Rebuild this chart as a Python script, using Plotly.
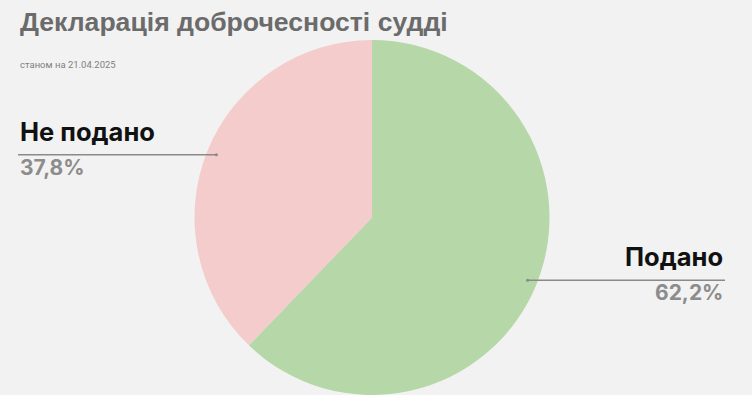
import math
import plotly.graph_objects as go

labels = ["Подано", "Не подано"]
values = [62.2, 37.8]
pct_text = ["62,2%", "37,8%"]
colors = ["#b6d7a8", "#f4cccc"]

W, H = 752, 395
top_margin = 40
dom_y = (H - top_margin) / H
cx_px = 372
dom_x = [(cx_px - 180) / W, (cx_px + 180) / W]

fig = go.Figure(go.Pie(
    labels=labels, values=values, marker=dict(colors=colors, line=dict(width=0)),
    sort=False, direction="clockwise", rotation=0, textinfo="none",
    hoverinfo="label+percent", showlegend=False,
    domain=dict(x=dom_x, y=[0, dom_y]),
))

R = min(dom_y * H, (dom_x[1] - dom_x[0]) * W) / 2
cy_px = top_margin + R
total = sum(values)
cum = 0
shapes, annos = [], []
for i, v in enumerate(values):
    mid = (cum + v / 2) / total * 2 * math.pi
    cum += v
    px = cx_px + 0.945 * R * math.sin(mid)
    py = cy_px - 0.945 * R * math.cos(mid)
    right = math.sin(mid) > 0
    x_end = 725 if right else 18
    xa = "right" if right else "left"
    shapes.append(dict(type="line", xref="paper", yref="paper",
                       x0=px / W, x1=x_end / W, y0=1 - py / H, y1=1 - py / H,
                       line=dict(color="#8a8a8a", width=1.5)))
    shapes.append(dict(type="circle", xref="paper", yref="paper",
                       x0=(px - 1.5) / W, x1=(px + 1.5) / W,
                       y0=1 - (py + 1.5) / H, y1=1 - (py - 1.5) / H,
                       fillcolor="#8a8a8a", line=dict(width=0)))
    annos.append(dict(text=f"<b>{labels[i]}</b>", x=x_end / W, y=1 - (py - 6) / H,
                      xref="paper", yref="paper", xanchor=xa, yanchor="bottom",
                      showarrow=False, font=dict(family="Inter", size=25.5, color="#111111")))
    annos.append(dict(text=f"<b>{pct_text[i]}</b>", x=x_end / W, y=1 - (py - 2) / H,
                      xref="paper", yref="paper", xanchor=xa, yanchor="top",
                      showarrow=False, font=dict(family="Inter", size=21, color="#8c8c8c")))

annos.append(dict(text="<b>Декларація доброчесності судді</b>", x=18 / W, y=1 - 5 / H,
                  xref="paper", yref="paper", xanchor="left", yanchor="top", showarrow=False,
                  font=dict(family="Liberation Sans", size=26.6, color="#6b6b6b")))
annos.append(dict(text="станом на 21.04.2025", x=18 / W, y=1 - 57 / H,
                  xref="paper", yref="paper", xanchor="left", yanchor="top", showarrow=False,
                  font=dict(family="Roboto", size=9.5, color="#808080")))

fig.update_layout(width=W, height=H, margin=dict(l=0, r=0, t=0, b=0),
                  paper_bgcolor="#f2f2f2", plot_bgcolor="#f2f2f2",
                  shapes=shapes, annotations=annos)
fig.write_html("out.html")
